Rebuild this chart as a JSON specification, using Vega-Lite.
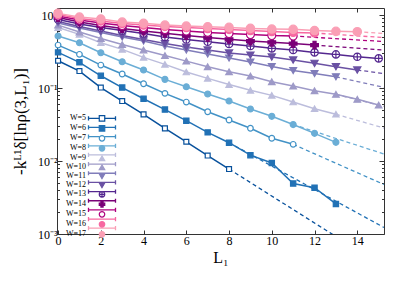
{
  "$schema": "https://vega.github.io/schema/vega-lite/v6.json",
  "width": 327,
  "height": 226,
  "autosize": {"type": "none"},
  "padding": {"left": 57, "top": 8, "right": 16, "bottom": 49},
  "background": "white",
  "config": {"view": {"stroke": "#333", "strokeWidth": 1}, "font": "Liberation Serif"},
  "datasets": {
    "pts": [
      {"W":5,"L":0,"v":0.2366},{"W":5,"L":1,"v":0.171},{"W":5,"L":2,"v":0.1016},{"W":5,"L":3,"v":0.0664},{"W":5,"L":4,"v":0.0436},{"W":5,"L":5,"v":0.028},{"W":5,"L":6,"v":0.01836},{"W":5,"L":7,"v":0.01189},{"W":5,"L":8,"v":0.00776},
      {"W":6,"L":0,"v":0.3082},{"W":6,"L":1,"v":0.2249},{"W":6,"L":2,"v":0.1473},{"W":6,"L":3,"v":0.1016},{"W":6,"L":4,"v":0.0713},{"W":6,"L":5,"v":0.0507},{"W":6,"L":6,"v":0.0357},{"W":6,"L":7,"v":0.0247},{"W":6,"L":8,"v":0.01782},{"W":6,"L":9,"v":0.01202},{"W":6,"L":10,"v":0.0094},{"W":6,"L":11,"v":0.00492},{"W":6,"L":12,"v":0.00431},{"W":6,"L":13,"v":0.00258},
      {"W":7,"L":0,"v":0.388},{"W":7,"L":1,"v":0.2897},{"W":7,"L":2,"v":0.2065},{"W":7,"L":3,"v":0.1556},{"W":7,"L":4,"v":0.1146},{"W":7,"L":5,"v":0.0846},{"W":7,"L":6,"v":0.0643},{"W":7,"L":7,"v":0.0473},{"W":7,"L":8,"v":0.0365},{"W":7,"L":9,"v":0.0281},{"W":7,"L":10,"v":0.0205},{"W":7,"L":11,"v":0.01694},
      {"W":8,"L":0,"v":0.516},{"W":8,"L":1,"v":0.417},{"W":8,"L":2,"v":0.3045},{"W":8,"L":3,"v":0.2292},{"W":8,"L":4,"v":0.1765},{"W":8,"L":5,"v":0.1316},{"W":8,"L":6,"v":0.1042},{"W":8,"L":7,"v":0.0828},{"W":8,"L":8,"v":0.0664},{"W":8,"L":9,"v":0.0516},{"W":8,"L":10,"v":0.041},{"W":8,"L":11,"v":0.0316},{"W":8,"L":12,"v":0.02395},{"W":8,"L":13,"v":0.01804},
      {"W":9,"L":0,"v":0.674},{"W":9,"L":1,"v":0.544},{"W":9,"L":2,"v":0.417},{"W":9,"L":3,"v":0.339},{"W":9,"L":4,"v":0.263},{"W":9,"L":5,"v":0.211},{"W":9,"L":6,"v":0.1657},{"W":9,"L":7,"v":0.1358},{"W":9,"L":8,"v":0.1116},{"W":9,"L":9,"v":0.093},{"W":9,"L":10,"v":0.0794},{"W":9,"L":11,"v":0.0643},{"W":9,"L":12,"v":0.052},{"W":9,"L":13,"v":0.0438},
      {"W":10,"L":0,"v":0.729},{"W":10,"L":1,"v":0.585},{"W":10,"L":2,"v":0.477},{"W":10,"L":3,"v":0.394},{"W":10,"L":4,"v":0.332},{"W":10,"L":5,"v":0.279},{"W":10,"L":6,"v":0.234},{"W":10,"L":7,"v":0.196},{"W":10,"L":8,"v":0.167},{"W":10,"L":9,"v":0.146},{"W":10,"L":10,"v":0.122},{"W":10,"L":11,"v":0.1065},{"W":10,"L":12,"v":0.0918},{"W":10,"L":13,"v":0.082},{"W":10,"L":14,"v":0.07},{"W":10,"L":15,"v":0.0585},
      {"W":11,"L":0,"v":0.777},{"W":11,"L":1,"v":0.664},{"W":11,"L":2,"v":0.576},{"W":11,"L":3,"v":0.5},{"W":11,"L":4,"v":0.44},{"W":11,"L":5,"v":0.376},{"W":11,"L":6,"v":0.332},{"W":11,"L":7,"v":0.292},{"W":11,"L":8,"v":0.258},{"W":11,"L":9,"v":0.227},{"W":11,"L":10,"v":0.197},{"W":11,"L":11,"v":0.1737},{"W":11,"L":12,"v":0.158},{"W":11,"L":13,"v":0.1428},
      {"W":12,"L":0,"v":0.815},{"W":12,"L":1,"v":0.696},{"W":12,"L":2,"v":0.604},{"W":12,"L":3,"v":0.524},{"W":12,"L":4,"v":0.462},{"W":12,"L":5,"v":0.407},{"W":12,"L":6,"v":0.364},{"W":12,"L":7,"v":0.332},{"W":12,"L":8,"v":0.302},{"W":12,"L":9,"v":0.283},{"W":12,"L":10,"v":0.266},{"W":12,"L":11,"v":0.242},{"W":12,"L":12,"v":0.218},{"W":12,"L":13,"v":0.196},{"W":12,"L":14,"v":0.1765},
      {"W":13,"L":0,"v":0.868},{"W":13,"L":1,"v":0.753},{"W":13,"L":2,"v":0.674},{"W":13,"L":3,"v":0.613},{"W":13,"L":4,"v":0.558},{"W":13,"L":5,"v":0.5},{"W":13,"L":6,"v":0.462},{"W":13,"L":7,"v":0.431},{"W":13,"L":8,"v":0.401},{"W":13,"L":9,"v":0.376},{"W":13,"L":10,"v":0.35},{"W":13,"L":11,"v":0.332},{"W":13,"L":12,"v":0.308},{"W":13,"L":13,"v":0.289},{"W":13,"L":14,"v":0.268},{"W":13,"L":15,"v":0.255},
      {"W":14,"L":0,"v":0.924},{"W":14,"L":1,"v":0.802},{"W":14,"L":2,"v":0.718},{"W":14,"L":3,"v":0.653},{"W":14,"L":4,"v":0.604},{"W":14,"L":5,"v":0.562},{"W":14,"L":6,"v":0.524},{"W":14,"L":7,"v":0.492},{"W":14,"L":8,"v":0.465},{"W":14,"L":9,"v":0.44},{"W":14,"L":10,"v":0.423},{"W":14,"L":11,"v":0.407},{"W":14,"L":12,"v":0.388},
      {"W":15,"L":0,"v":0.969},{"W":15,"L":1,"v":0.854},{"W":15,"L":2,"v":0.777},{"W":15,"L":3,"v":0.718},{"W":15,"L":4,"v":0.674},{"W":15,"L":5,"v":0.633},{"W":15,"L":6,"v":0.604},{"W":15,"L":7,"v":0.579},{"W":15,"L":8,"v":0.558},{"W":15,"L":9,"v":0.541},{"W":15,"L":10,"v":0.524},{"W":15,"L":11,"v":0.516},
      {"W":16,"L":0,"v":1.016},{"W":16,"L":1,"v":0.896},{"W":16,"L":2,"v":0.828},{"W":16,"L":3,"v":0.765},{"W":16,"L":4,"v":0.729},{"W":16,"L":5,"v":0.696},{"W":16,"L":6,"v":0.674},{"W":16,"L":7,"v":0.653},{"W":16,"L":8,"v":0.633},{"W":16,"L":9,"v":0.613},{"W":16,"L":10,"v":0.594},{"W":16,"L":11,"v":0.579},{"W":16,"L":12,"v":0.567},
      {"W":17,"L":0,"v":1.055},{"W":17,"L":1,"v":0.939},{"W":17,"L":2,"v":0.882},{"W":17,"L":3,"v":0.802},{"W":17,"L":4,"v":0.77},{"W":17,"L":5,"v":0.729},{"W":17,"L":6,"v":0.707},{"W":17,"L":7,"v":0.691},{"W":17,"L":8,"v":0.678},{"W":17,"L":9,"v":0.657},{"W":17,"L":10,"v":0.643},{"W":17,"L":11,"v":0.637},{"W":17,"L":12,"v":0.613},{"W":17,"L":13,"v":0.598},{"W":17,"L":14,"v":0.591}
    ],
    "fit": [
      {"W":5,"L":8,"v":0.00776},{"W":5,"L":15.25,"v":0.000355},
      {"W":6,"L":8,"v":0.01782},{"W":6,"L":15.25,"v":0.001227},
      {"W":7,"L":11,"v":0.01694},{"W":7,"L":15.25,"v":0.004765},
      {"W":8,"L":11,"v":0.0316},{"W":8,"L":15.25,"v":0.01247},
      {"W":9,"L":13,"v":0.0438},{"W":9,"L":15.25,"v":0.0283},
      {"W":10,"L":13,"v":0.082},{"W":10,"L":15.25,"v":0.0561},
      {"W":11,"L":13,"v":0.1428},{"W":11,"L":15.25,"v":0.1022},
      {"W":12,"L":14,"v":0.1765},{"W":12,"L":15.25,"v":0.158},
      {"W":13,"L":15,"v":0.255},{"W":13,"L":15.25,"v":0.2495},
      {"W":14,"L":12,"v":0.388},{"W":14,"L":15.25,"v":0.3316},
      {"W":15,"L":11,"v":0.516},{"W":15,"L":15.25,"v":0.4335},
      {"W":16,"L":12,"v":0.567},{"W":16,"L":15.25,"v":0.4916},
      {"W":17,"L":14,"v":0.591},{"W":17,"L":15.25,"v":0.558}
    ]
  },
  "layer": [
    {
      "data": {"name": "pts"},
      "mark": {"type": "line", "strokeWidth": 1.5, "clip": true},
      "encoding": {
        "x": {"field": "L", "type": "quantitative",
          "scale": {"domain": [-0.05, 15.25], "nice": false, "zero": false},
          "axis": {"orient": "bottom", "values": [0,2,4,6,8,10,12,14], "tickSize": -4, "tickColor": "#333", "labelPadding": 5, "labelFontSize": 12, "labelFont": "Liberation Serif", "labelColor": "black", "labelFlush": false, "domain": false, "grid": false, "title": "L₁", "titleFont": "Liberation Serif", "titleFontSize": 16, "titleFontWeight": "normal", "titleColor": "black", "titlePadding": 3}},
        "y": {"field": "v", "type": "quantitative",
          "scale": {"type": "log", "domain": [0.001, 1.25], "nice": false},
          "axis": {"orient": "left", "values": [0.001,0.002,0.003,0.004,0.005,0.006,0.007,0.008,0.009,0.01,0.02,0.03,0.04,0.05,0.06,0.07,0.08,0.09,0.1,0.2,0.3,0.4,0.5,0.6,0.7,0.8,0.9,1],
            "labelExpr": "datum.value == 1 ? '10⁰' : datum.value == 0.1 ? '10⁻¹' : datum.value == 0.01 ? '10⁻²' : datum.value == 0.001 ? '10⁻³' : ''",
            "labelOverlap": false, "labelFontSize": 12, "labelFont": "Liberation Serif", "labelColor": "black", "labelPadding": 5,
            "tickSize": {"condition": {"test": "abs(log(datum.value)/LN10 - round(log(datum.value)/LN10)) < 0.01", "value": -5}, "value": -2.5},
            "tickColor": "#333", "domain": false, "grid": false,
            "title": "-kᴸ¹δ[lnρ(3,L₁)]", "titleFont": "Liberation Serif", "titleFontSize": 17, "titleFontWeight": "normal", "titleColor": "black", "titlePadding": 8}},
        "color": {"field": "W", "type": "ordinal",
          "scale": {"domain": [5,6,7,8,9,10,11,12,13,14,15,16,17],
            "range": ["#08519c","#2171b5","#4292c6","#6baed6","#bcbddc","#9e9ac8","#807dba","#6a51a3","#54278f","#7a0177","#ae017e","#f768a1","#fa9fb5"]},
          "legend": {"orient": "none", "legendX": 41, "legendY": 106.3, "title": null, "padding": 0,
            "symbolType": "M-4.5,0H4.5M-4.5,-0.7V0.7M4.5,-0.7V0.7", "symbolSize": 36, "symbolStrokeWidth": 1.3,
            "labelFontSize": 8, "labelOpacity": 0, "labelExpr": "''", "rowPadding": -0.84}}
      }
    },
    {
      "data": {"name": "fit"},
      "mark": {"type": "line", "strokeDash": [4, 3], "strokeWidth": 1.3, "clip": true},
      "encoding": {
        "x": {"field": "L", "type": "quantitative",
          "axis": {"orient": "top", "values": [0,2,4,6,8,10,12,14], "tickSize": -4, "tickColor": "#333", "labels": false, "domain": false, "grid": false, "title": null}},
        "y": {"field": "v", "type": "quantitative",
          "axis": {"orient": "right", "values": [0.001,0.002,0.003,0.004,0.005,0.006,0.007,0.008,0.009,0.01,0.02,0.03,0.04,0.05,0.06,0.07,0.08,0.09,0.1,0.2,0.3,0.4,0.5,0.6,0.7,0.8,0.9,1],
            "labels": false,
            "tickSize": {"condition": {"test": "abs(log(datum.value)/LN10 - round(log(datum.value)/LN10)) < 0.01", "value": -5}, "value": -2.5},
            "tickColor": "#333", "domain": false, "grid": false, "title": null}},
        "color": {"field": "W", "type": "ordinal", "legend": null}
      }
    },
    {
      "data": {"name": "pts"},
      "mark": {"type": "point", "filled": true, "strokeWidth": 1.2, "opacity": 1},
      "encoding": {
        "x": {"field": "L", "type": "quantitative", "axis": null},
        "y": {"field": "v", "type": "quantitative", "axis": null},
        "stroke": {"field": "W", "type": "ordinal",
          "scale": {"range": ["#08519c","#2171b5","#4292c6","#6baed6","#bcbddc","#9e9ac8","#807dba","#6a51a3","#54278f","#7a0177","#ae017e","#f768a1","#fa9fb5"]},
          "legend": {"orient": "none", "legendX": 41, "legendY": 106.3, "title": null, "padding": 0, "symbolSize": 30, "symbolStrokeWidth": 1.2, "labelFontSize": 8, "labelFont": "Liberation Serif", "labelColor": "black", "labelAlign": "right", "labelOffset": -20, "rowPadding": -2.0, "labelExpr": "'W=' + datum.label"}},
        "fill": {"field": "W", "type": "ordinal",
          "scale": {"range": ["white","#2171b5","white","#6baed6","#bcbddc","#9e9ac8","#807dba","#6a51a3","white","#7a0177","white","#f768a1","#fa9fb5"]},
          "legend": {"orient": "none", "legendX": 41, "legendY": 106.3, "title": null, "padding": 0, "symbolSize": 30, "symbolStrokeWidth": 1.2, "labelFontSize": 8, "labelFont": "Liberation Serif", "labelColor": "black", "labelAlign": "right", "labelOffset": -20, "rowPadding": -2.0, "labelExpr": "'W=' + datum.label"}},
        "shape": {"field": "W", "type": "ordinal",
          "scale": {"range": ["square","square","circle","circle","triangle-up","triangle-up","triangle-down","triangle-down","M1,0A1,1,0,1,1,-1,0A1,1,0,1,1,1,0ZM-1,0H1M0,-1V1","cross","circle","circle","circle"]},
          "legend": {"orient": "none", "legendX": 41, "legendY": 106.3, "title": null, "padding": 0, "symbolSize": 30, "symbolStrokeWidth": 1.2, "labelFontSize": 8, "labelFont": "Liberation Serif", "labelColor": "black", "labelAlign": "right", "labelOffset": -20, "rowPadding": -2.0, "labelExpr": "'W=' + datum.label"}},
        "size": {"field": "W", "type": "ordinal",
          "scale": {"domain": [17,16,15,14,13,12,11,10,9,8,7,6,5], "range": [70,24,34,26,36,20,44,20,44,30,36,30,34]},
          "legend": null}
      }
    }
  ],
  "resolve": {"axis": {"x": "independent", "y": "independent"}}
}
